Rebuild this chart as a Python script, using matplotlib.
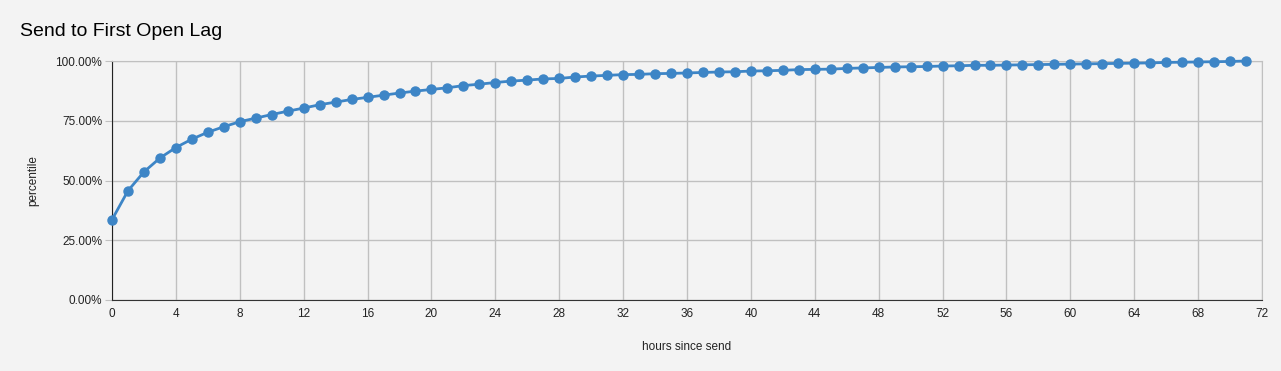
import matplotlib.pyplot as plt
from matplotlib.ticker import FuncFormatter, MultipleLocator

plt.rcParams['font.family'] = ['Liberation Sans', 'DejaVu Sans']

hours = list(range(72))
percentile = [
    0.336, 0.457, 0.536, 0.594, 0.638, 0.673, 0.702, 0.725, 0.746, 0.761,
    0.776, 0.790, 0.803, 0.817, 0.828, 0.839, 0.848, 0.857, 0.866, 0.874,
    0.881, 0.888, 0.897, 0.903, 0.910, 0.916, 0.920, 0.925, 0.927, 0.933,
    0.937, 0.940, 0.943, 0.944, 0.947, 0.948, 0.950, 0.952, 0.954, 0.955,
    0.958, 0.959, 0.961, 0.964, 0.965, 0.966, 0.969, 0.971, 0.973, 0.975,
    0.976, 0.977, 0.979, 0.980, 0.982, 0.982, 0.983, 0.984, 0.985, 0.986,
    0.987, 0.988, 0.989, 0.990, 0.991, 0.992, 0.994, 0.995, 0.996, 0.997,
    0.998, 1.000,
]

bg = '#f3f3f3'
fig = plt.figure(figsize=(12.81, 3.71), dpi=100, facecolor=bg)
ax = fig.add_axes([112 / 1281, 1 - 300 / 371, 1150 / 1281, 239 / 371])
ax.set_facecolor(bg)

ax.plot(hours, percentile, color='#3d85c6', lw=2, marker='o', ms=6.5,
        zorder=3, clip_on=False)

ax.set_xlim(0, 72)
ax.set_ylim(0, 1)
ax.xaxis.set_major_locator(MultipleLocator(4))
ax.yaxis.set_major_locator(MultipleLocator(0.25))
ax.yaxis.set_major_formatter(FuncFormatter(lambda v, p: '{:.2f}%'.format(v * 100)))

ax.grid(True, color='#c0c0c0', lw=1)
ax.set_axisbelow(True)
for s in ['top', 'right']:
    ax.spines[s].set_color('#c0c0c0')
ax.spines['left'].set_color('#222222')
ax.spines['bottom'].set_color('#333333')
ax.tick_params(axis='y', length=5, color='#c0c0c0', labelsize=8.5, pad=2, labelcolor='#222222')
ax.tick_params(axis='x', length=0, labelsize=8.5, pad=6, labelcolor='#222222')

ax.set_xlabel('hours since send', fontsize=8.5, labelpad=15, color='#222222')
ax.set_ylabel('percentile', fontsize=8.5, labelpad=12, color='#222222')
fig.text(20 / 1281, 1 - 31 / 371, 'Send to First Open Lag', fontsize=14, va='center', ha='left')

fig.savefig('out.png', dpi=100, facecolor=bg)
